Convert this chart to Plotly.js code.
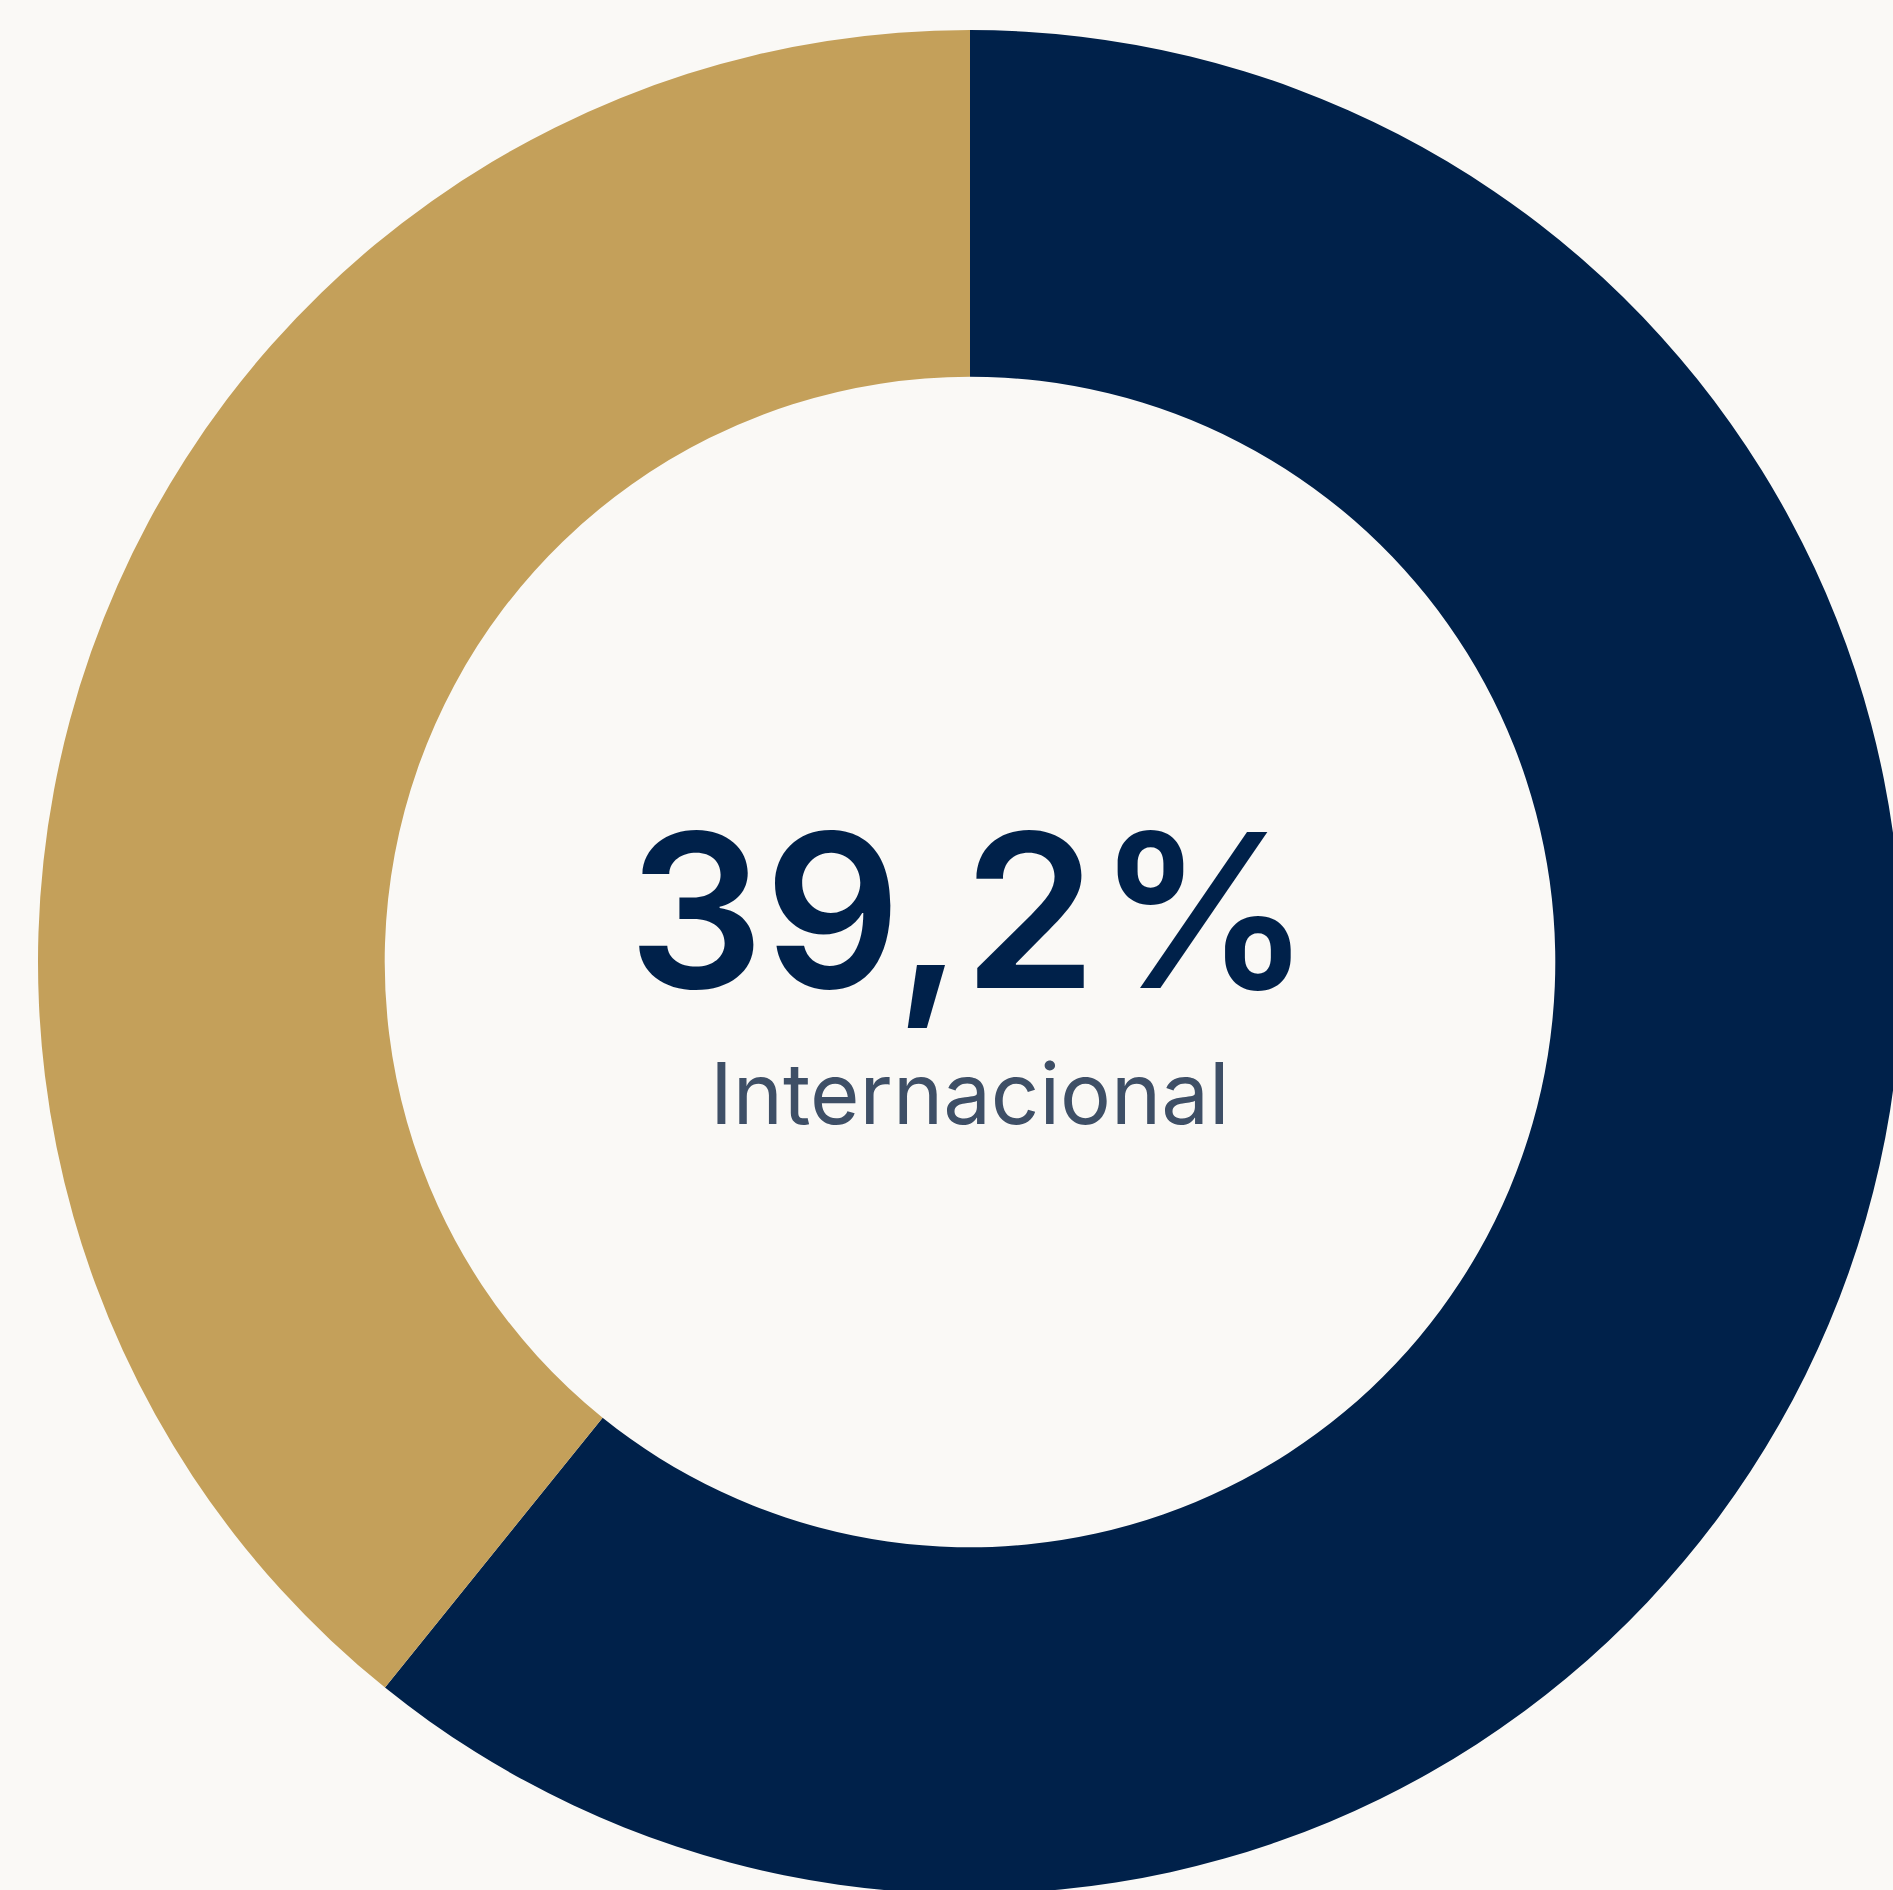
<!DOCTYPE html>
<html>
<head>
<meta charset="utf-8">
<script src="https://cdn.plot.ly/plotly-3.0.1.min.js"></script>
<style>
  html, body { margin: 0; padding: 0; background: #faf9f6; overflow: hidden; width: 1893px; height: 1890px; }
  #chart { position: absolute; left: 0; top: 0; width: 1940px; height: 1940px; }
</style>
</head>
<body>
<div id="chart"></div>
<script>
const labels = ["Nacional", "Internacional"];
const values = [60.8, 39.2];
const colors = ["#00214a", "#c4a05a"];
const centerValue = "39,2%";
const centerLabel = "Internacional";

const W = 1940, H = 1940;
const cx = 970, cy = 962, R = 932;

const trace = {
  type: "pie",
  labels: labels,
  values: values,
  hole: 0.628,
  sort: false,
  direction: "clockwise",
  rotation: 0,
  textinfo: "none",
  hoverinfo: "skip",
  showlegend: false,
  marker: { colors: colors, line: { width: 0 } },
  domain: {
    x: [(cx - R) / W, (cx + R) / W],
    y: [1 - (cy + R) / H, 1 - (cy - R) / H]
  }
};

const layout = {
  width: W,
  height: H,
  margin: { l: 0, r: 0, t: 0, b: 0 },
  paper_bgcolor: "#faf9f6",
  plot_bgcolor: "#faf9f6",
  showlegend: false,
  annotations: [
    {
      text: centerValue,
      x: cx / W, y: 1 - 910 / H,
      xref: "paper", yref: "paper",
      xanchor: "center", yanchor: "middle",
      showarrow: false,
      font: { family: "Inter", size: 214, color: "#00214a", weight: 600 }
    },
    {
      text: centerLabel,
      x: cx / W, y: 1 - 1093 / H,
      xref: "paper", yref: "paper",
      xanchor: "center", yanchor: "middle",
      showarrow: false,
      font: { family: "Inter", size: 85, color: "#3e4f66", weight: 400 }
    }
  ]
};

Plotly.newPlot("chart", [trace], layout, { staticPlot: true, displayModeBar: false });
</script>
</body>
</html>
